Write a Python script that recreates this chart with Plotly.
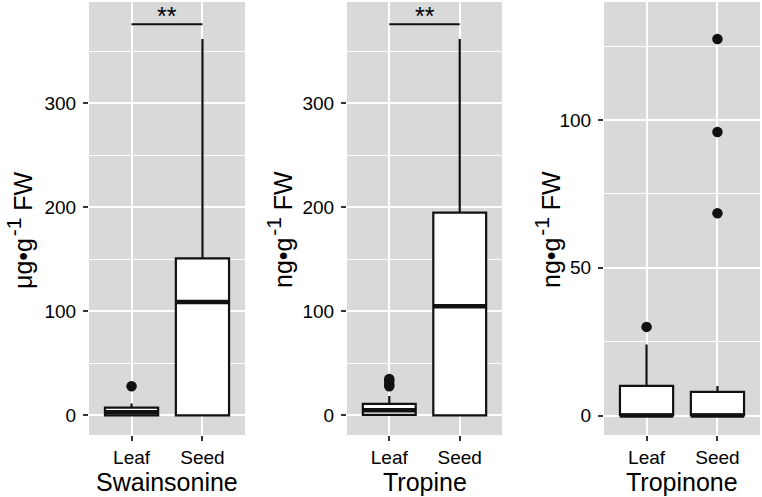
import plotly.graph_objects as go

# ---- data ----
categories = ["Leaf", "Seed"]
panels = ["Swainsonine", "Tropine", "Tropinone"]
y_units = ["μg•g", "ng•g", "ng•g"]
y_exp = "-1"
y_suffix = " FW"

swa_q1 = [0, 0]
swa_median = [3, 109]
swa_q3 = [7.5, 151]
swa_low = [0, 0]
swa_up = [11.5, 362]
swa_out_leaf = [28]
swa_out_seed = []

tro_q1 = [0.5, 0]
tro_median = [5, 105]
tro_q3 = [11, 195]
tro_low = [0, 0]
tro_up = [18.5, 362]
tro_out_leaf = [28, 30, 33, 35]
tro_out_seed = []

tpn_q1 = [0, 0]
tpn_median = [0, 0]
tpn_q3 = [10, 8]
tpn_low = [0, 0]
tpn_up = [24, 10]
tpn_out_leaf = [30]
tpn_out_seed = [68.5, 96, 127.5]

sig_labels = ["**", "**", None]
sig_y = [376, 376, None]

y_ticks = [[0, 100, 200, 300], [0, 100, 200, 300], [0, 50, 100]]
y_ranges = [[-18.9, 397.5], [-18.9, 397.5], [-6.6, 140]]
y_minor = [50, 50, 25]

stats = [
    (swa_q1, swa_median, swa_q3, swa_low, swa_up, [swa_out_leaf, swa_out_seed]),
    (tro_q1, tro_median, tro_q3, tro_low, tro_up, [tro_out_leaf, tro_out_seed]),
    (tpn_q1, tpn_median, tpn_q3, tpn_low, tpn_up, [tpn_out_leaf, tpn_out_seed]),
]

# ---- layout geometry ----
W, H = 762, 497
x_doms_px = [(89, 245), (347, 502), (604, 760)]
y_dom_px = (2, 435)
y_title_x_px = [20, 280, 548]
BOX_W = 0.75
FONT = "Liberation Sans, Arial, Helvetica, sans-serif"
PANEL_BG = "#D9D9D9"
INK = "#000000"

fig = go.Figure()
layout_axes = {}
annotations = []

for i, (q1, med, q3, lo, up, outs) in enumerate(stats):
    xa = "x" if i == 0 else f"x{i+1}"
    ya = "y" if i == 0 else f"y{i+1}"
    idx = list(range(len(categories)))
    fig.add_trace(go.Box(
        x=idx, q1=q1, median=med, q3=q3, lowerfence=lo, upperfence=up,
        width=BOX_W, whiskerwidth=0, fillcolor="white",
        line=dict(color="#111111", width=2.2), boxpoints=False,
        xaxis=xa, yaxis=ya, hoverinfo="skip"))
    # thick median lines
    for c, m in zip(idx, med):
        fig.add_trace(go.Scatter(
            x=[c - BOX_W / 2, c + BOX_W / 2], y=[m, m], mode="lines",
            line=dict(color="#111111", width=4.5), xaxis=xa, yaxis=ya,
            hoverinfo="skip"))
    # outliers
    for c, o in zip(idx, outs):
        if o:
            fig.add_trace(go.Scatter(
                x=[c] * len(o), y=o, mode="markers",
                marker=dict(color="#111111", size=10.5),
                xaxis=xa, yaxis=ya, hoverinfo="skip"))
    # significance
    if sig_labels[i]:
        fig.add_trace(go.Scatter(
            x=[idx[0], idx[-1]], y=[sig_y[i], sig_y[i]], mode="lines",
            line=dict(color="#111111", width=2), xaxis=xa, yaxis=ya,
            hoverinfo="skip"))
        annotations.append(dict(
            x=(idx[0] + idx[-1]) / 2, y=sig_y[i], xref=xa, yref=ya,
            text=sig_labels[i], showarrow=False, yanchor="bottom",
            font=dict(size=25, family=FONT, color=INK), yshift=-8))

    x0, x1 = x_doms_px[i]
    key_x = "xaxis" if i == 0 else f"xaxis{i+1}"
    key_y = "yaxis" if i == 0 else f"yaxis{i+1}"
    layout_axes[key_x] = dict(
        domain=[x0 / W, x1 / W], anchor=ya, range=[-0.6, 1.6],
        tickvals=idx, ticktext=categories, ticks="outside", ticklen=5,
        tickwidth=2, tickcolor="#333333", showgrid=True,
        gridcolor="white", gridwidth=2, zeroline=False, showline=False,
        tickfont=dict(size=19, family=FONT, color=INK),
        ticklabelstandoff=0, fixedrange=True)
    layout_axes[key_y] = dict(
        domain=[1 - y_dom_px[1] / H, 1 - y_dom_px[0] / H], anchor=xa,
        range=y_ranges[i], tickvals=y_ticks[i], ticks="outside", ticklen=5,
        tickwidth=2, tickcolor="#333333", showgrid=True,
        gridcolor="white", gridwidth=2, zeroline=False, showline=False,
        minor=dict(dtick=y_minor[i], tick0=0, showgrid=True,
                   gridcolor="white", gridwidth=1.2, ticks=""),
        tickfont=dict(size=19, family=FONT, color=INK),
        ticklabelstandoff=3, fixedrange=True)

    # x title
    annotations.append(dict(
        x=(x0 + x1) / 2 / W, y=1 - 482 / H, xref="paper", yref="paper",
        text=panels[i], showarrow=False, xanchor="center", yanchor="middle",
        font=dict(size=25, family=FONT, color=INK)))
    # y title
    title_txt = (y_units[i] + "<sup><span style='font-size:21px'>&#8202;"
                 + y_exp + "</span></sup>" + y_suffix)
    annotations.append(dict(
        x=y_title_x_px[i] / W, y=1 - 230 / H, xref="paper", yref="paper",
        text=title_txt, showarrow=False, textangle=-90,
        xanchor="center", yanchor="middle",
        font=dict(size=25, family=FONT, color=INK)))

fig.update_layout(
    width=W, height=H, margin=dict(l=0, r=0, t=0, b=0),
    plot_bgcolor=PANEL_BG, paper_bgcolor="white", showlegend=False,
    annotations=annotations, **layout_axes)

fig.write_html("out.html")
